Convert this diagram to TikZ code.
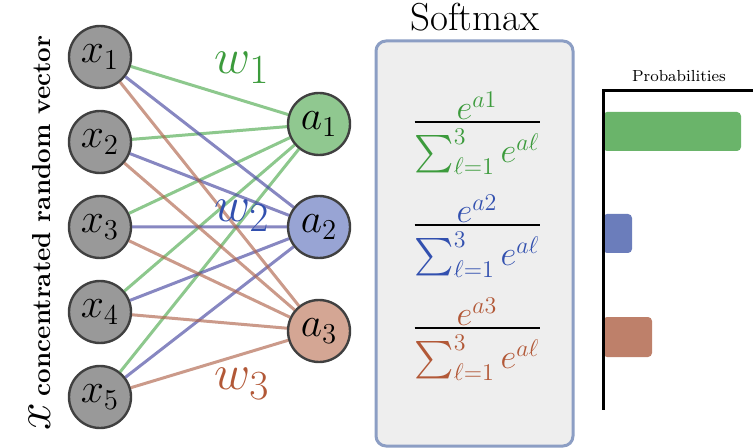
\documentclass[tikz,border=0pt]{standalone}
\usepackage{amsmath,amssymb}
\usepackage{xcolor}
\usepackage{tikz}
\usetikzlibrary{positioning}

\definecolor{inputgray}{RGB}{153,153,153}
\definecolor{nodeedge}{RGB}{64,64,64}
\definecolor{afgreen}{RGB}{144,200,144}
\definecolor{afblue}{RGB}{152,164,212}
\definecolor{afred}{RGB}{212,166,148}
\definecolor{edgegreen}{RGB}{80,170,80}
\definecolor{edgeblue}{RGB}{70,70,160}
\definecolor{edgered}{RGB}{175,100,75}
\definecolor{txtgreen}{RGB}{60,155,60}
\definecolor{txtblue}{RGB}{50,80,175}
\definecolor{txtred}{RGB}{178,88,55}
\definecolor{bargreen}{RGB}{106,180,106}
\definecolor{barblue}{RGB}{107,125,187}
\definecolor{barred}{RGB}{190,128,106}
\definecolor{boxedge}{RGB}{140,158,196}
\definecolor{boxfill}{RGB}{238,238,238}

% softmax fraction, set tight round the rule
\newcommand{\smfrac}[2]{$\frac{\raisebox{-1.5pt}[\height][\depth]{$\textstyle\color{#1}e^{a#2}$}}
  {\raisebox{0pt}[\dimexpr\height+2.5pt\relax][\depth]{$\textstyle\color{#1}\sum_{\ell=1}^{3} e^{a\ell}$}}$}

\begin{document}
\begin{tikzpicture}[
  x=0.5pt, y=-0.5pt,
  node distance=42.5pt and 109.5pt, on grid,
  input/.style={circle, draw=nodeedge, line width=1.2pt, fill=inputgray,
                minimum size=31pt, inner sep=0pt, font=\huge},
  output/.style={input, fill=#1},
  link/.style={line width=1.5pt, draw=#1, draw opacity=0.65},
  weight/.style={font=\Huge, text=#1},
  ratio/.style={font=\fontsize{18.7}{22}\selectfont},
  bar/.style={fill=#1, rounded corners=2pt},
]
  \useasboundingbox (0,0) rectangle (753,448);

  % Input vector x
  \node[input] (x1) at (100,57) {$x_1$};
  \node[input, below=of x1] (x2) {$x_2$};
  \node[input, below=of x2] (x3) {$x_3$};
  \node[input, below=of x3] (x4) {$x_4$};
  \node[input, below=of x4] (x5) {$x_5$};
  \node[rotate=90, anchor=base] (xlabel) at (50,233)
    {{\Huge$x$}\ {\fontsize{13}{15}\selectfont\bfseries concentrated random vector}};

  % Activations a
  \node[output=afblue, right=of x3] (a2) {$a_2$};
  \node[output=afgreen, above=51.5pt of a2] (a1) {$a_1$};
  \node[output=afred, below=52pt of a2] (a3) {$a_3$};

  % Weights
  \draw[link=edgegreen] (x1) -- (a1) (x2) -- (a1) (x3) -- (a1) (x4) -- (a1) (x5) -- (a1);
  \draw[link=edgeblue] (x1) -- (a2) (x2) -- (a2) (x3) -- (a2) (x4) -- (a2) (x5) -- (a2);
  \draw[link=edgered] (x1) -- (a3) (x2) -- (a3) (x3) -- (a3) (x4) -- (a3) (x5) -- (a3);
  \node[weight=txtgreen] (w1) at (242,68) {$w_1$};
  \node[weight=txtblue] (w2) at (242,216) {$w_2$};
  \node[weight=txtred] (w3) at (242,384) {$w_3$};

  % Softmax box
  \node[draw=boxedge, fill=boxfill, line width=1.5pt, rounded corners=5pt,
        minimum width=98.5pt, minimum height=202.5pt] (softmax) at (474.5,243.5) {};
  \node[font=\fontsize{19.5}{22}\selectfont] (title) at (475,17) {Softmax};
  \node[ratio] (p1) at (477,133) {\smfrac{txtgreen}{1}};
  \node[ratio] (p2) at (477,236) {\smfrac{txtblue}{2}};
  \node[ratio] (p3) at (477,339) {\smfrac{txtred}{3}};

  % Probabilities
  \fill[bar=bargreen] (603,112) rectangle (741,151);
  \fill[bar=barblue] (603,214) rectangle (632,253);
  \fill[bar=barred] (603,317) rectangle (652,357);
  \draw[line width=1.5pt] (753,91) -| (603,410);
  \node[font=\footnotesize] (probs) at (679,76) {Probabilities};
\end{tikzpicture}
\end{document}
